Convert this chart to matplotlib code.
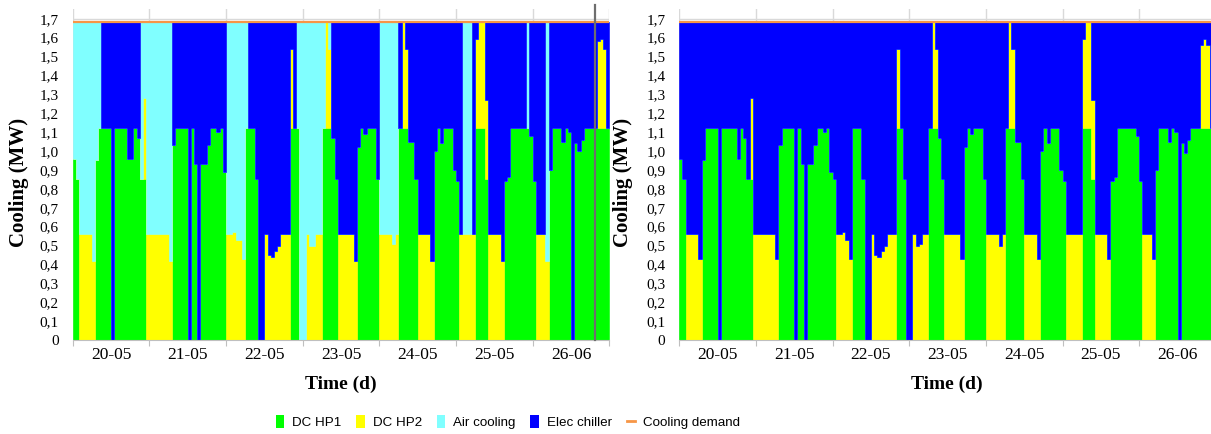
import numpy as np
import matplotlib
matplotlib.use("Agg")
import matplotlib.pyplot as plt
from matplotlib.patches import Patch
from matplotlib.lines import Line2D
from matplotlib import font_manager

# ---------------- data (hourly, 7 days = 168 h) ----------------
day_labels = ["20-05", "21-05", "22-05", "23-05", "24-05", "25-05", "26-06"]
y_ticks = [0, 0.1, 0.2, 0.3, 0.4, 0.5, 0.6, 0.7, 0.8, 0.9, 1.0, 1.1, 1.2, 1.3, 1.4, 1.5, 1.6, 1.7]
y_ticklabels = ["0", "0,1", "0,2", "0,3", "0,4", "0,5", "0,6", "0,7", "0,8", "0,9", "1,0",
                "1,1", "1,2", "1,3", "1,4", "1,5", "1,6", "1,7"]
demand_level = 1.68

# Left scenario (with air cooling)
hp1_left = [
    0.96, 0.85, 0, 0, 0, 0, 0, 0.95, 1.12, 1.12, 1.12, 1.12, 0, 1.12, 1.12, 1.12, 1.12, 0.96, 0.96, 1.12, 1.07, 0.85, 0.85, 0,
    0, 0, 0, 0, 0, 0, 0, 1.03, 1.12, 1.12, 1.12, 1.12, 0, 1.12, 0.93, 0, 0.93, 0.93, 1.03, 1.12, 1.12, 1.10, 1.12, 0.89,
    0, 0, 0, 0, 0, 0, 1.12, 1.12, 1.12, 0.85, 0, 0, 0, 0, 0, 0, 0, 0, 0, 0, 1.12, 1.12, 1.12, 0,
    0, 0, 0, 0, 0, 0, 1.12, 1.12, 1.12, 1.07, 0.85, 0, 0, 0, 0, 0, 0, 1.02, 1.12, 1.09, 1.12, 1.12, 1.12, 0.85,
    0, 0, 0, 0, 0, 0, 1.12, 1.12, 1.12, 1.05, 1.05, 0.85, 0, 0, 0, 0, 0, 1.00, 1.12, 1.04, 1.12, 1.12, 1.12, 0.90,
    0.84, 0, 0, 0, 0, 0, 1.12, 1.12, 1.12, 0.85, 0, 0, 0, 0, 0, 0.84, 0.86, 1.12, 1.12, 1.12, 1.12, 1.12, 1.12, 1.08,
    0.84, 0, 0, 0, 0, 0.90, 1.12, 1.12, 1.12, 1.05, 1.12, 1.10, 0, 1.04, 1.00, 1.06, 1.12, 1.12, 1.12, 1.12, 1.12, 1.12, 1.12, 1.12,
]
hp2_left = [
    0, 0, 0.56, 0.56, 0.56, 0.56, 0.42, 0, 0, 0, 0, 0, 0, 0, 0, 0, 0, 0, 0, 0, 0, 0, 0.43, 0.56,
    0.56, 0.56, 0.56, 0.56, 0.56, 0.56, 0.42, 0, 0, 0, 0, 0, 0, 0, 0, 0, 0, 0, 0, 0, 0, 0, 0, 0,
    0.56, 0.56, 0.57, 0.53, 0.53, 0.43, 0, 0, 0, 0, 0, 0, 0.56, 0.45, 0.44, 0.47, 0.50, 0.56, 0.56, 0.56, 0.42, 0, 0, 0,
    0, 0.56, 0.50, 0.50, 0.56, 0.56, 0, 0.56, 0.42, 0, 0, 0.56, 0.56, 0.56, 0.56, 0.56, 0.42, 0, 0, 0, 0, 0, 0, 0,
    0.56, 0.56, 0.56, 0.56, 0.51, 0.56, 0, 0.56, 0.42, 0, 0, 0, 0.56, 0.56, 0.56, 0.56, 0.42, 0, 0, 0, 0, 0, 0, 0,
    0, 0.56, 0.56, 0.56, 0.56, 0.56, 0.47, 0.56, 0.56, 0.42, 0.56, 0.56, 0.56, 0.56, 0.42, 0, 0, 0, 0, 0, 0, 0, 0, 0,
    0, 0.56, 0.56, 0.56, 0.42, 0, 0, 0, 0, 0, 0, 0, 0, 0, 0, 0, 0, 0, 0, 0, 0.46, 0.47, 0.42, 0,
]
air_left = [
    0.72, 0.83, 1.12, 1.12, 1.12, 1.12, 1.26, 0.73, 0.56, 0, 0, 0, 0, 0, 0, 0, 0, 0, 0, 0, 0, 0.83, 0.40, 1.12,
    1.12, 1.12, 1.12, 1.12, 1.12, 1.12, 1.26, 0, 0, 0, 0, 0, 0, 0, 0, 0, 0, 0, 0, 0, 0, 0, 0, 0,
    1.12, 1.12, 1.11, 1.15, 1.15, 1.25, 0.56, 0, 0, 0, 0, 0, 0, 0, 0, 0, 0, 0, 0, 0, 0, 0, 0.56, 1.68,
    1.68, 1.12, 1.18, 1.18, 1.12, 1.12, 0.56, 0, 0.14, 0, 0, 0, 0, 0, 0, 0, 0, 0, 0, 0, 0, 0, 0, 0,
    1.12, 1.12, 1.12, 1.12, 1.17, 1.12, 0, 0, 0, 0, 0, 0, 0, 0, 0, 0, 0, 0, 0, 0, 0, 0, 0, 0,
    0, 0, 1.12, 1.12, 1.12, 0, 0, 0, 0, 0, 0, 0, 0, 0, 0, 0, 0, 0, 0, 0, 0, 0, 0.56, 0,
    0, 0, 0, 0, 1.26, 0, 0, 0, 0, 0, 0, 0, 0, 0, 0, 0, 0, 0, 0, 0, 0, 0, 0, 0,
]

# Right scenario (no air cooling)
hp1_right = [
    0.96, 0.85, 0, 0, 0, 0, 0, 0.95, 1.12, 1.12, 1.12, 1.12, 0, 1.12, 1.12, 1.12, 1.12, 1.12, 0.96, 1.12, 1.07, 0.85, 0.85, 0,
    0, 0, 0, 0, 0, 0, 0, 1.03, 1.12, 1.12, 1.12, 1.12, 0, 1.12, 0.93, 0, 0.93, 0.93, 1.03, 1.12, 1.12, 1.10, 1.12, 0.89,
    0.85, 0, 0, 0, 0, 0, 1.12, 1.12, 1.12, 0.85, 0, 0, 0, 0, 0, 0, 0, 0, 0, 0, 1.12, 1.12, 0.85, 0,
    0, 0, 0, 0, 0, 0, 1.12, 1.12, 1.12, 1.07, 0.85, 0, 0, 0, 0, 0, 0, 1.02, 1.12, 1.09, 1.12, 1.12, 1.12, 0.85,
    0, 0, 0, 0, 0, 0, 1.12, 1.12, 1.12, 1.05, 1.05, 0.85, 0, 0, 0, 0, 0, 1.00, 1.12, 1.04, 1.12, 1.12, 1.12, 0.90,
    0.84, 0, 0, 0, 0, 0, 1.12, 1.12, 1.12, 0.85, 0, 0, 0, 0, 0, 0.84, 0.86, 1.12, 1.12, 1.12, 1.12, 1.12, 1.12, 1.08,
    0.84, 0, 0, 0, 0, 0.90, 1.12, 1.12, 1.12, 1.05, 1.12, 1.10, 0, 1.04, 0.99, 1.06, 1.12, 1.12, 1.12, 1.12, 1.12, 1.12, 1.12, 1.12,
]
hp2_right = [
    0, 0, 0.56, 0.56, 0.56, 0.56, 0.43, 0, 0, 0, 0, 0, 0, 0, 0, 0, 0, 0, 0, 0, 0, 0, 0.43, 0.56,
    0.56, 0.56, 0.56, 0.56, 0.56, 0.56, 0.43, 0, 0, 0, 0, 0, 0, 0, 0, 0, 0, 0, 0, 0, 0, 0, 0, 0,
    0, 0.56, 0.56, 0.57, 0.53, 0.43, 0, 0, 0, 0, 0, 0, 0.56, 0.45, 0.44, 0.47, 0.50, 0.56, 0.56, 0.56, 0.42, 0, 0, 0,
    0, 0.56, 0.50, 0.51, 0.56, 0.56, 0, 0.56, 0.42, 0, 0, 0.56, 0.56, 0.56, 0.56, 0.56, 0.43, 0, 0, 0, 0, 0, 0, 0,
    0.56, 0.56, 0.56, 0.56, 0.50, 0.56, 0, 0.56, 0.42, 0, 0, 0, 0.56, 0.56, 0.56, 0.56, 0.43, 0, 0, 0, 0, 0, 0, 0,
    0, 0.56, 0.56, 0.56, 0.56, 0.56, 0.47, 0.56, 0.56, 0.42, 0.56, 0.56, 0.56, 0.56, 0.43, 0, 0, 0, 0, 0, 0, 0, 0, 0,
    0, 0.56, 0.56, 0.56, 0.43, 0, 0, 0, 0, 0, 0, 0, 0, 0, 0, 0, 0, 0, 0, 0.44, 0.47, 0.44, 0, 0,
]
air_right = [0.0] * 168

marker_hour_left = 163.5

# ---------------- styling ----------------
C_HP1 = "#00FF00"
C_HP2 = "#FFFF00"
C_AIR = "#80FFFF"
C_ELEC = "#0000FF"
C_DEM = "#F79646"

avail = {f.name for f in font_manager.fontManager.ttflist}
SERIF = "Liberation Serif" if "Liberation Serif" in avail else "DejaVu Serif"
LEG = "Liberation Sans" if "Liberation Sans" in avail else "DejaVu Sans"

W, H = 1211, 434
fig = plt.figure(figsize=(W / 100, H / 100), dpi=100)

Y0PX, PXMW = 340.0, 189.0
YMAX = 1.75


def rect(x0, x1):
    ytop = Y0PX - YMAX * PXMW
    return [x0 / W, 1 - Y0PX / H, (x1 - x0) / W, (Y0PX - ytop) / H]


def draw(ax, hp1, hp2, air):
    n = len(hp1)
    hp1 = np.asarray(hp1, float)
    hp2 = np.asarray(hp2, float)
    air = np.asarray(air, float)
    dem = np.full(n, demand_level)
    xs = np.arange(n + 1)

    def ext(a):
        return np.append(a, a[-1])

    for d in range(0, 8):
        ax.axvline(d * 24, color="#D9D9D9", lw=1.0, zorder=0)
    ax.axhline(1.7, color="#D9D9D9", lw=1.0, zorder=0)

    b0 = np.zeros(n)
    b1 = hp1
    b2 = hp1 + hp2
    b3 = hp1 + hp2 + air
    layers = [(b0, b1, C_HP1), (b1, b2, C_HP2), (b2, b3, C_AIR), (b3, dem, C_ELEC)]
    for lo, hi, col in layers:
        ax.fill_between(xs, ext(lo), ext(hi), step="post", color=col,
                        lw=0.4, edgecolor=col, zorder=2)
    ax.step(xs, ext(dem), where="post", color=C_DEM, lw=1.6, zorder=3)

    ax.set_xlim(0, n)
    ax.set_ylim(0, YMAX)
    for s in ["top", "right", "left"]:
        ax.spines[s].set_visible(False)
    ax.spines["bottom"].set_color("#BFBFBF")
    ax.spines["bottom"].set_zorder(4)
    ax.set_yticks(y_ticks)
    ax.set_yticklabels(y_ticklabels, fontfamily=SERIF, fontsize=11)
    ax.tick_params(axis="y", length=0, pad=10)
    ax.set_xticks(np.arange(0, n + 1, 24))
    ax.set_xticklabels([])
    ax.set_xticks(np.arange(12, n, 24), minor=True)
    ax.set_xticklabels(day_labels, minor=True, fontfamily=SERIF, fontsize=12.5)
    ax.tick_params(axis="x", which="minor", length=0, pad=5)
    ax.tick_params(axis="x", which="major", length=4, color="#BFBFBF", direction="out")


ax1 = fig.add_axes(rect(72.7, 609.3))
draw(ax1, hp1_left, hp2_left, air_left)
ax1.plot([marker_hour_left, marker_hour_left], [0, 1.77], color="#6E6E6E", lw=1.6,
         zorder=5, clip_on=False)

ax2 = fig.add_axes(rect(679.3, 1215.9))
draw(ax2, hp1_right, hp2_right, air_right)

for xc, yc in [(19, 182), (623, 182)]:
    fig.text(xc / W, 1 - yc / H, "Cooling (MW)", rotation=90, ha="center", va="center",
             fontfamily=SERIF, fontweight="bold", fontsize=15)
for xc in [341, 947]:
    fig.text(xc / W, 1 - 384 / H, "Time (d)", ha="center", va="center",
             fontfamily=SERIF, fontweight="bold", fontsize=14)

handles = [Patch(facecolor=C_HP1, edgecolor="none"), Patch(facecolor=C_HP2, edgecolor="none"),
           Patch(facecolor=C_AIR, edgecolor="none"), Patch(facecolor=C_ELEC, edgecolor="none"),
           Line2D([0], [0], color=C_DEM, lw=2)]
labels = ["DC HP1", "DC HP2", "Air cooling", "Elec chiller", "Cooling demand"]
fig.legend(handles, labels, loc="center", bbox_to_anchor=(508 / W, 1 - 422 / H), ncol=5,
           frameon=False, prop={"family": LEG, "size": 9.6}, handlelength=0.65,
           handleheight=1.15, handletextpad=0.6, columnspacing=1.1)

fig.savefig("out.png", dpi=100)
